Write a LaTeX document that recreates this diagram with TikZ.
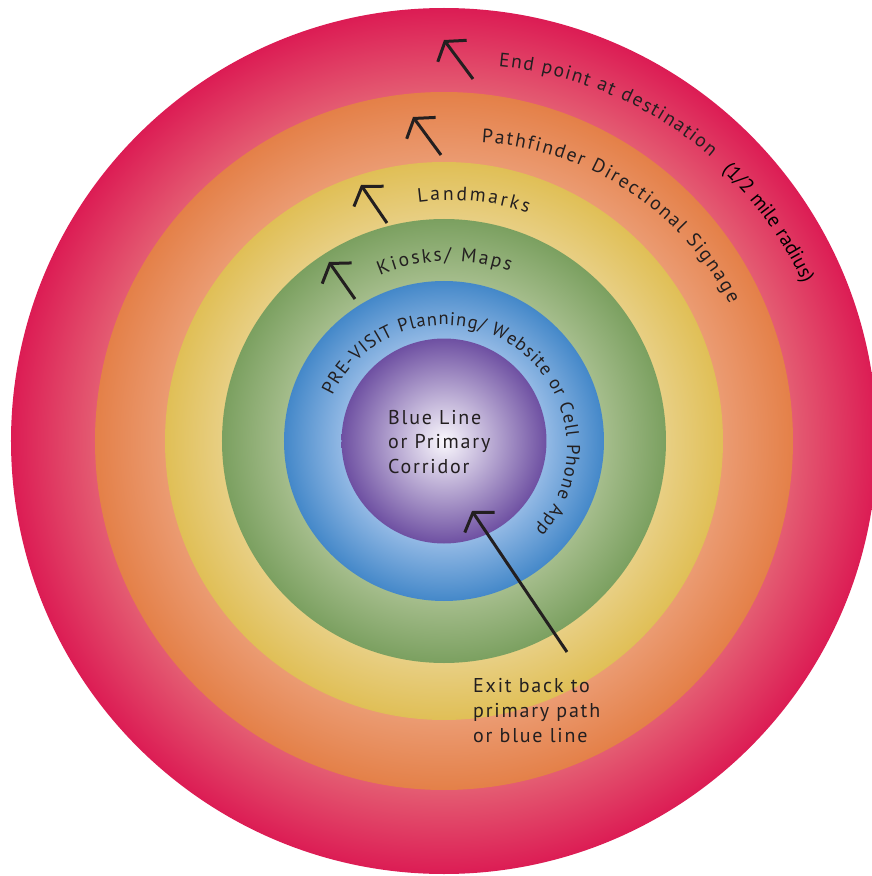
\documentclass[tikz,border=0pt]{standalone}
\usepackage{fontspec}
\usetikzlibrary{decorations.text,arrows.meta}
\newfontfamily\lblfont{PT Sans}
\newfontfamily\lblfontsp[LetterSpace=9]{PT Sans}
\definecolor{txt}{RGB}{35,31,32}
\definecolor{redout}{RGB}{220,28,84}
\definecolor{redin}{RGB}{228,92,114}
\definecolor{orangeout}{RGB}{228,128,72}
\definecolor{orangein}{RGB}{235,155,114}
\definecolor{yellowout}{RGB}{224,191,86}
\definecolor{yellowin}{RGB}{232,207,132}
\definecolor{greenout}{RGB}{123,160,96}
\definecolor{greenin}{RGB}{165,189,140}
\definecolor{blueout}{RGB}{68,136,201}
\definecolor{bluein}{RGB}{145,184,228}
\definecolor{purpleout}{RGB}{110,80,162}
\definecolor{purplein}{RGB}{250,248,253}
\pgfdeclareradialshading{shred}{\pgfpoint{0bp}{0bp}}{color(0bp)=(redin); color(20.15bp)=(redin); color(25bp)=(redout); color(50bp)=(redout)}
\pgfdeclareradialshading{shorange}{\pgfpoint{0bp}{0bp}}{color(0bp)=(orangein); color(19.98bp)=(orangein); color(25bp)=(orangeout); color(50bp)=(orangeout)}
\pgfdeclareradialshading{shyellow}{\pgfpoint{0bp}{0bp}}{color(0bp)=(yellowin); color(19.8bp)=(yellowin); color(25bp)=(yellowout); color(50bp)=(yellowout)}
\pgfdeclareradialshading{shgreen}{\pgfpoint{0bp}{0bp}}{color(0bp)=(greenin); color(17.99bp)=(greenin); color(25bp)=(greenout); color(50bp)=(greenout)}
\pgfdeclareradialshading{shblue}{\pgfpoint{0bp}{0bp}}{color(0bp)=(bluein); color(16.1bp)=(bluein); color(25bp)=(blueout); color(50bp)=(blueout)}
\pgfdeclareradialshading{shpurple}{\pgfpoint{0bp}{0bp}}{color(0bp)=(purplein); color(25bp)=(purpleout); color(50bp)=(purpleout)}
\def\arcA{\fontsize{19.5}{22}\selectfont\lblfont\color{txt}}
\def\arcB{\fontsize{18.5}{21}\selectfont\lblfont\color{txt}}
\def\arcP{\fontsize{20}{22}\selectfont\lblfont\color{black}}
\tikzset{
  arctext/.style={decorate, decoration={text along path, text align={fit to path}, text={#1}}},
  arctextleft/.style={decorate, decoration={text along path, text align=left, text={#1}}},
  arr/.style={draw=txt, line width=3pt, -{Straight Barb[length=12pt,width=36pt]}},
  label/.style={anchor=north west, align=left, inner sep=0pt, text=txt}
}
\begin{document}
\begin{tikzpicture}[x=1pt,y=1pt]
\useasboundingbox (-444,-435) rectangle (428,441);
\clip (-444,-435) rectangle (428,441);
% rings
\shade[shading=shred] (0,0) circle (433);
\shade[shading=shorange] (0,0) circle (349);
\shade[shading=shyellow] (0,0) circle (279);
\shade[shading=shgreen] (0,0) circle (222);
\shade[shading=shblue] (0,0) circle (160);
\shade[shading=shpurple] (0,0) circle (102.5);
% curved labels
\path[arctext={|\arcA|End point at destination}] (20,0) ++(84.7:376) arc[start angle=84.7, end angle=49, radius=376];
\path[arctextleft={|\arcP|(1/2 mile radius)}] (20,0) ++(46.4:374) arc[start angle=46.4, end angle=15, radius=374];
\path[arctext={|\arcA|Pathfinder Directional Signage}] (20,0) ++(86.6:299) arc[start angle=86.6, end angle=27.3, radius=299];
\path[arctext={|\arcA|Landmarks}] (6,0) ++(97.6:241) arc[start angle=97.6, end angle=71.1, radius=241];
\path[arctext={|\arcA|Kiosks/ Maps}] (6,0) ++(112.9:180) arc[start angle=112.9, end angle=70.6, radius=180];
\path[arctext={|\arcB|PRE-VISIT Planning/ Website or Cell Phone App}] (0,-7) ++(155:123) arc[start angle=155, end angle=-42, radius=123];
% straight labels
\node[label, font=\fontsize{20}{24.5}\selectfont\lblfontsp] (core) at (-56,31) {Blue Line\\or Primary\\Corridor};
\node[label, font=\fontsize{20}{25}\selectfont\lblfontsp] (exit) at (29,-237) {Exit back to\\primary path\\or blue line};
% arrows
\coordinate (a1s) at (29,362);   \coordinate (a1t) at (0,401);
\coordinate (a2s) at (-3,286);   \coordinate (a2t) at (-31,324);
\coordinate (a3s) at (-57,218);  \coordinate (a3t) at (-83,256);
\coordinate (a4s) at (-89,142);  \coordinate (a4t) at (-115,179);
\coordinate (a5s) at (123,-211); \coordinate (a5t) at (28,-70);
\draw[arr] (a1s) -- (a1t);
\draw[arr] (a2s) -- (a2t);
\draw[arr] (a3s) -- (a3t);
\draw[arr] (a4s) -- (a4t);
\draw[arr] (a5s) -- (a5t);
\end{tikzpicture}
\end{document}
